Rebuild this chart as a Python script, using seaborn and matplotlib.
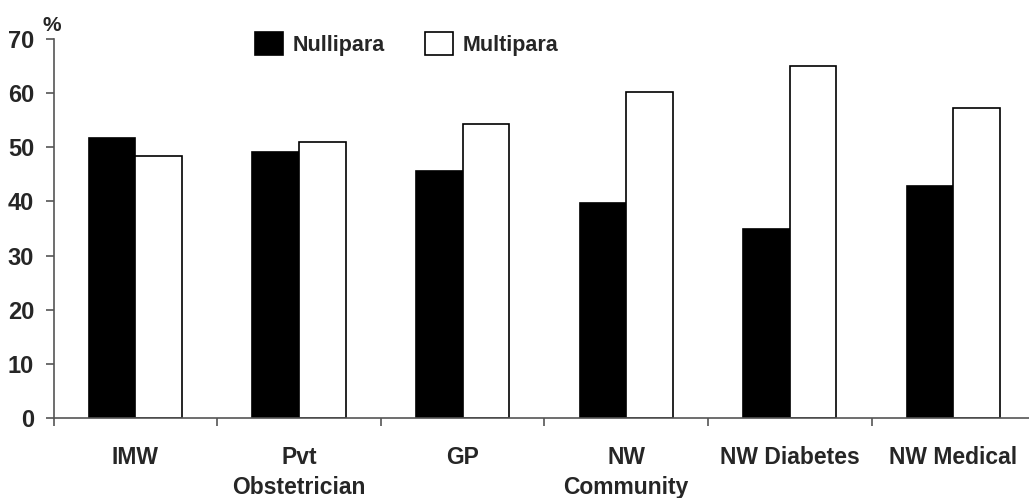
import matplotlib
matplotlib.use("Agg")
import matplotlib.pyplot as plt
import seaborn as sns
import pandas as pd
from matplotlib.ticker import FixedLocator

categories = ["IMW", "Pvt\nObstetrician", "GP", "NW\nCommunity", "NW Diabetes", "NW Medical"]
nullipara = [51.8, 49.2, 45.7, 39.7, 35.0, 42.8]
multipara = [48.4, 50.9, 54.3, 60.3, 65.0, 57.3]
series = ["Nullipara", "Multipara"]
yticks = [0, 10, 20, 30, 40, 50, 60, 70]

df = pd.DataFrame({
    "category": categories * 2,
    "value": nullipara + multipara,
    "group": [series[0]] * len(categories) + [series[1]] * len(categories),
})

sns.set_style("white")
plt.rcParams["font.family"] = ["Liberation Sans", "DejaVu Sans"]
plt.rcParams["font.weight"] = "bold"

fig = plt.figure(figsize=(10.29, 4.98), dpi=100)
ax = fig.add_axes([53.6 / 1029, 80 / 498, 981.6 / 1029, 379 / 498])

sns.barplot(data=df, x="category", y="value", hue="group", order=categories,
            hue_order=series, palette=["black", "white"], edgecolor="black",
            linewidth=1.2, width=0.57, ax=ax, legend=True)

ax.set_xlim(-0.5, len(categories) - 0.5)
ax.set_ylim(0, 70)
ax.set_yticks(yticks)
ax.set_xlabel("")
ax.set_ylabel("")

for s in ["top", "right"]:
    ax.spines[s].set_visible(False)
for s in ["left", "bottom"]:
    ax.spines[s].set_color("#555555")
    ax.spines[s].set_linewidth(1.2)

ax.tick_params(axis="y", direction="out", length=6, width=1.2, color="#555555",
               labelsize=17, pad=8, left=True)
ax.tick_params(axis="x", which="major", length=0, labelsize=16.5, pad=20)
ax.xaxis.set_minor_locator(FixedLocator([i - 0.5 for i in range(len(categories) + 1)]))
ax.tick_params(axis="x", which="minor", direction="out", length=6, width=1.2,
               color="#555555", bottom=True)
for lab in ax.get_xticklabels():
    lab.set_fontweight("bold")
    lab.set_linespacing(1.4)
for lab in ax.get_yticklabels():
    lab.set_fontweight("bold")

ax.text(-0.011, 1.01, "%", transform=ax.transAxes, fontsize=15, fontweight="bold",
        ha="left", va="bottom")

ax.legend(loc="upper left", bbox_to_anchor=(0.185, 1.07), ncol=2, frameon=False,
          prop={"weight": "bold", "size": 15.5},
          handlelength=1.3, handleheight=1.3, columnspacing=1.9,
          handletextpad=0.45)

fig.savefig("out.png", dpi=100)
